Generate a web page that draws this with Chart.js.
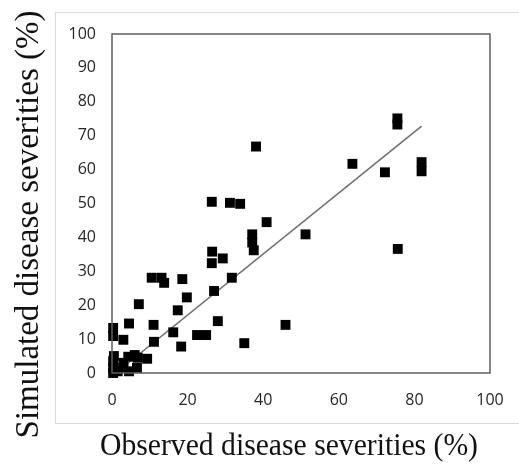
<!DOCTYPE html>
<html>
<head>
<meta charset="utf-8">
<script src="https://cdn.jsdelivr.net/npm/chart.js@4/dist/chart.umd.min.js"></script>
<style>
  html, body { margin: 0; padding: 0; background: #ffffff; }
  #wrap { width: 519px; height: 465px; position: relative; }
</style>
</head>
<body>
<div id="wrap"><canvas id="c" width="519" height="465"></canvas></div>
<script>
// Observed (x) and simulated (y) disease severities (%)
const observed = [
  26.4, 31.2, 33.9, 38.1, 40.9, 37.1, 37.1, 37.5, 51.2, 63.6,
  72.2, 81.9, 81.9, 75.5, 75.5, 75.6, 26.5, 26.4, 29.3, 31.7,
  27.0, 28.0, 35.0, 45.9, 10.5, 13.1, 13.8, 18.6, 19.8, 17.4,
  7.1, 4.5, 11.0, 0.3, 0.3, 3.0, 11.1, 16.2, 18.3, 22.5,
  24.9, 9.3, 0.3, 0.3, 0.3, 0.5, 1.5, 3.0, 3.0, 4.3,
  4.5, 6.0, 6.6, 6.8
];
const simulated = [
  50.5, 50.2, 49.9, 66.8, 44.5, 40.9, 38.5, 36.2, 40.9, 61.7,
  59.2, 62.2, 59.5, 75.1, 73.3, 36.6, 35.8, 32.4, 33.8, 28.1,
  24.2, 15.3, 8.8, 14.2, 28.1, 28.1, 26.6, 27.7, 22.3, 18.5,
  20.3, 14.6, 14.2, 13.3, 10.9, 9.8, 9.2, 12.0, 7.8, 11.2,
  11.2, 4.2, 0.0, 1.5, 3.5, 5.0, 0.5, 1.5, 3.0, 4.8,
  0.5, 5.3, 1.5, 4.5
];
// Linear trend line end points
const trendX = [1, 81.9];
const trendY = [0, 72.8];

const xTicks = [0, 20, 40, 60, 80, 100];
const yTicks = [0, 10, 20, 30, 40, 50, 60, 70, 80, 90, 100];
const xTitle = 'Observed disease severities (%)';
const yTitle = 'Simulated disease severities (%)';

const points = observed.map((x, i) => ({ x: x, y: simulated[i] }));
const trend = trendX.map((x, i) => ({ x: x, y: trendY[i] }));

const framePlugin = {
  id: 'frames',
  beforeDraw(chart) {
    const ctx = chart.ctx;
    ctx.save();
    ctx.strokeStyle = '#d9d9d9';
    ctx.lineWidth = 1;
    ctx.strokeRect(55.5, 12.5, 480, 411);
    ctx.restore();
    // shift axis titles so they are centred like the original
    const shifts = { x: [-12, 0], y: [0, 21] };
    Object.keys(shifts).forEach(id => {
      const s = chart.scales[id];
      if (s && !s._titlePatched) {
        const orig = s.drawTitle;
        s.drawTitle = function () {
          const c = this.ctx;
          c.save();
          c.translate(shifts[id][0], shifts[id][1]);
          orig.apply(this, arguments);
          c.restore();
        };
        s._titlePatched = true;
      }
    });
  },
  afterDatasetsDraw(chart) {
    const { ctx, chartArea: a } = chart;
    ctx.save();
    ctx.strokeStyle = '#5f5f5f';
    ctx.lineWidth = 1.5;
    ctx.strokeRect(a.left, a.top, a.right - a.left, a.bottom - a.top);
    ctx.restore();
  }
};

new Chart(document.getElementById('c'), {
  type: 'scatter',
  data: {
    datasets: [
      {
        label: 'Simulated vs observed',
        data: points,
        pointStyle: 'rect',
        pointRadius: 7,
        pointHoverRadius: 7,
        backgroundColor: '#000000',
        borderColor: '#000000',
        borderWidth: 0,
        clip: false
      },
      {
        label: 'Linear trend',
        type: 'line',
        data: trend,
        showLine: true,
        pointRadius: 0,
        borderColor: '#6e6e6e',
        borderWidth: 1.5,
        fill: false
      }
    ]
  },
  options: {
    responsive: false,
    animation: false,
    events: [],
    layout: { padding: { top: 34, right: 29, bottom: 0, left: 0 } },
    plugins: { legend: { display: false }, tooltip: { enabled: false } },
    scales: {
      x: {
        type: 'linear',
        min: 0, max: 100,
        afterBuildTicks: s => { s.ticks = xTicks.map(v => ({ value: v })); },
        afterFit: s => { s.height = 92; },
        grid: { display: false },
        border: { display: false },
        ticks: { padding: 10, color: '#262626', font: { family: 'Open Sans', size: 16 } },
        title: {
          display: true, text: xTitle, color: '#111111',
          font: { family: 'Liberation Serif', size: 31 },
          padding: { top: 0, bottom: 0 }
        }
      },
      y: {
        type: 'linear',
        min: 0, max: 100,
        afterBuildTicks: s => { s.ticks = yTicks.map(v => ({ value: v })); },
        afterFit: s => { s.width = 112; },
        grid: { display: false },
        border: { display: false },
        ticks: { padding: 8, color: '#262626', font: { family: 'Open Sans', size: 16 } },
        title: {
          display: true, text: yTitle, color: '#111111',
          font: { family: 'Liberation Serif', size: 33 },
          padding: { top: 10, bottom: 0 }
        }
      }
    }
  },
  plugins: [framePlugin]
});
</script>
</body>
</html>
